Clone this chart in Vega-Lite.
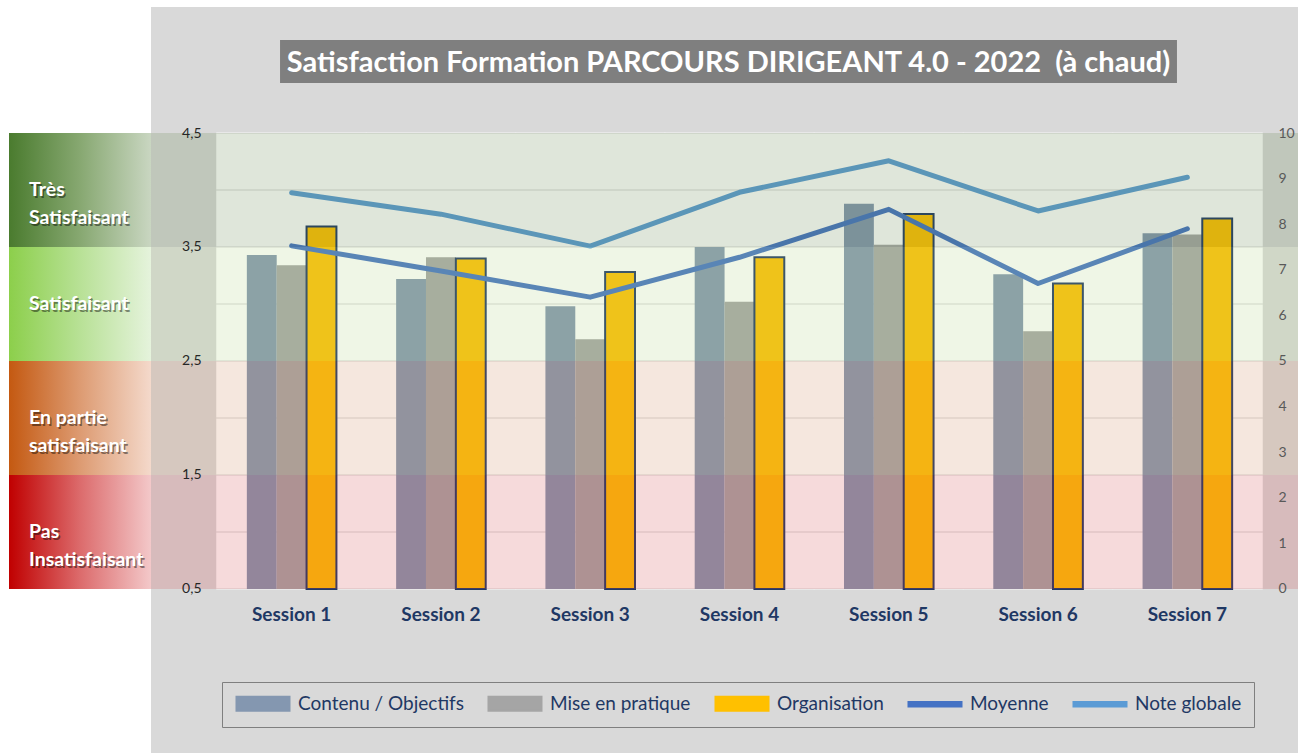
{
  "$schema": "https://vega.github.io/schema/vega-lite/v6.json",
  "background": "white",
  "padding": {"left": 9, "top": 7, "right": 0, "bottom": 0},
  "spacing": 0,
  "bounds": "flush",
  "config": {"view": {"stroke": null}, "font": "Lato"},
  "resolve": {"scale": {"x": "independent", "y": "independent", "color": "independent", "fill": "independent", "shape": "independent", "stroke": "independent"}},
  "datasets": {
    "sessions": [
      {"session": "Session 1", "contenu": 3.43, "mise": 3.34, "organisation": 3.68, "moyenne": 3.51, "note": 8.69},
      {"session": "Session 2", "contenu": 3.22, "mise": 3.41, "organisation": 3.40, "moyenne": 3.29, "note": 8.22},
      {"session": "Session 3", "contenu": 2.98, "mise": 2.69, "organisation": 3.28, "moyenne": 3.06, "note": 7.52},
      {"session": "Session 4", "contenu": 3.50, "mise": 3.02, "organisation": 3.41, "moyenne": 3.41, "note": 8.70},
      {"session": "Session 5", "contenu": 3.88, "mise": 3.52, "organisation": 3.79, "moyenne": 3.83, "note": 9.39},
      {"session": "Session 6", "contenu": 3.26, "mise": 2.76, "organisation": 3.18, "moyenne": 3.18, "note": 8.29},
      {"session": "Session 7", "contenu": 3.62, "mise": 3.61, "organisation": 3.75, "moyenne": 3.66, "note": 9.03}
    ],
    "bands": [
      {"band": "tres", "label": "Très\nSatisfaisant", "score": 4, "lo": 3.5, "hi": 4.5},
      {"band": "sat", "label": "Satisfaisant", "score": 3, "lo": 2.5, "hi": 3.5},
      {"band": "partie", "label": "En partie\nsatisfaisant", "score": 2, "lo": 1.5, "hi": 2.5},
      {"band": "pas", "label": "Pas\nInsatisfaisant", "score": 1, "lo": 0.5, "hi": 1.5}
    ],
    "grid": [{"v": 0.5}, {"v": 1}, {"v": 1.5}, {"v": 2}, {"v": 2.5}, {"v": 3}, {"v": 3.5}, {"v": 4}, {"v": 4.5}]
  },
  "hconcat": [
    {
      "width": 142,
      "height": 746,
      "data": {"name": "bands"},
      "layer": [
        {
          "transform": [{"filter": "datum.band === 'tres'"}],
          "mark": {"type": "rect", "color": {"gradient": "linear", "x1": 0, "x2": 1, "y1": 0, "y2": 0, "stops": [{"offset": 0, "color": "#4a7b2e"}, {"offset": 0.5, "color": "#87a871"}, {"offset": 1, "color": "#c9d6c1"}]}},
          "encoding": {"y": {"field": "lo", "type": "quantitative", "scale": {"domain": [-0.9386, 5.6053], "nice": false, "zero": false}, "axis": null}, "y2": {"field": "hi"}}
        },
        {
          "transform": [{"filter": "datum.band === 'sat'"}],
          "mark": {"type": "rect", "color": {"gradient": "linear", "x1": 0, "x2": 1, "y1": 0, "y2": 0, "stops": [{"offset": 0, "color": "#8ccf4b"}, {"offset": 0.5, "color": "#b8e196"}, {"offset": 1, "color": "#e5f3dc"}]}},
          "encoding": {"y": {"field": "lo", "type": "quantitative", "scale": {"domain": [-0.9386, 5.6053], "nice": false, "zero": false}, "axis": null}, "y2": {"field": "hi"}}
        },
        {
          "transform": [{"filter": "datum.band === 'partie'"}],
          "mark": {"type": "rect", "color": {"gradient": "linear", "x1": 0, "x2": 1, "y1": 0, "y2": 0, "stops": [{"offset": 0, "color": "#c45911"}, {"offset": 0.5, "color": "#dd9b72"}, {"offset": 1, "color": "#f4d9cb"}]}},
          "encoding": {"y": {"field": "lo", "type": "quantitative", "scale": {"domain": [-0.9386, 5.6053], "nice": false, "zero": false}, "axis": null}, "y2": {"field": "hi"}}
        },
        {
          "transform": [{"filter": "datum.band === 'pas'"}],
          "mark": {"type": "rect", "color": {"gradient": "linear", "x1": 0, "x2": 1, "y1": 0, "y2": 0, "stops": [{"offset": 0, "color": "#c00000"}, {"offset": 0.5, "color": "#dc6b6c"}, {"offset": 1, "color": "#f3c8c9"}]}},
          "encoding": {"y": {"field": "lo", "type": "quantitative", "scale": {"domain": [-0.9386, 5.6053], "nice": false, "zero": false}, "axis": null}, "y2": {"field": "hi"}}
        },
        {
          "mark": {"type": "text", "color": "rgba(0,0,0,0.45)", "font": "Lato", "fontWeight": "bold", "fontSize": 19.5, "align": "left", "baseline": "middle", "lineBreak": "\n", "lineHeight": 28, "dx": -49.5, "dy": 1.5},
          "encoding": {"y": {"field": "score", "type": "quantitative", "scale": {"domain": [-0.9386, 5.6053], "nice": false, "zero": false}, "axis": null}, "text": {"field": "label"}}
        },
        {
          "mark": {"type": "text", "color": "white", "font": "Lato", "fontWeight": "bold", "fontSize": 19.5, "align": "left", "baseline": "middle", "lineBreak": "\n", "lineHeight": 28, "dx": -51},
          "encoding": {"y": {"field": "score", "type": "quantitative", "scale": {"domain": [-0.9386, 5.6053], "nice": false, "zero": false}, "axis": null}, "text": {"field": "label"}}
        }
      ]
    },
    {
      "spacing": 0,
      "bounds": "flush",
      "resolve": {"scale": {"x": "independent", "y": "independent", "color": "independent", "fill": "independent", "shape": "independent", "stroke": "independent"}},
      "vconcat": [
        {
          "width": 1147,
          "height": 126,
          "view": {"fill": "#d9d9d9", "stroke": null},
          "data": {"values": [{"titre": "Satisfaction Formation PARCOURS DIRIGEANT 4.0 - 2022\u00a0\u00a0(à chaud)"}]},
          "encoding": {
            "x": {"field": "titre", "type": "nominal", "scale": {"paddingInner": 0, "paddingOuter": 0.1394, "align": 0.516}, "axis": null},
            "y": {"field": "titre", "type": "nominal", "scale": {"paddingInner": 0, "paddingOuter": 0.965, "align": 0.3976}, "axis": null}
          },
          "layer": [
            {"mark": {"type": "rect", "color": "#7f7f7f"}},
            {"mark": {"type": "text", "color": "white", "font": "Lato", "fontWeight": "bold", "fontSize": 29, "baseline": "middle", "align": "center", "dy": 1}, "encoding": {"text": {"field": "titre"}}}
          ]
        },
        {
          "width": 1147,
          "height": 620,
          "view": {"fill": "#d9d9d9", "stroke": null},
          "resolve": {"scale": {"y": "independent"}},
          "layer": [
            {
              "data": {"name": "sessions"},
              "transform": [{"fold": ["contenu", "mise", "organisation", "moyenne", "note"], "as": ["serie", "valeur"]}],
              "mark": {"type": "point", "filled": true, "opacity": 0},
              "encoding": {
                "color": {"field": "serie", "type": "nominal",
                  "scale": {"domain": ["contenu", "mise", "organisation", "moyenne", "note"], "range": ["#8497b0", "#a5a5a5", "#ffc000", "#4472c4", "#5b9bd5"]},
                  "legend": {
                    "orient": "none", "legendX": 71, "legendY": 549, "direction": "horizontal", "columns": 5, "title": null,
                    "labelExpr": "datum.label === 'contenu' ? 'Contenu / Objectifs' : datum.label === 'mise' ? 'Mise en pratique' : datum.label === 'organisation' ? 'Organisation' : datum.label === 'moyenne' ? 'Moyenne' : 'Note globale'",
                    "labelFont": "Lato", "labelFontSize": 19, "labelColor": "#1f3864", "labelOffset": 25.5, "labelLimit": 400, "columnPadding": 20,
                    "symbolSize": 196, "symbolOffset": 19.5, "symbolOpacity": 1, "symbolStrokeWidth": 2, "padding": 12, "strokeColor": "#7f7f7f"
                  }
                },
                "shape": {"field": "serie", "type": "nominal",
                  "scale": {"domain": ["contenu", "mise", "organisation", "moyenne", "note"], "range": ["M-3.786,-1H3.786V1H-3.786Z", "M-3.786,-1H3.786V1H-3.786Z", "M-3.786,-1H3.786V1H-3.786Z", "M-3.786,-0.32H3.786V0.32H-3.786Z", "M-3.786,-0.32H3.786V0.32H-3.786Z"]},
                  "legend": {
                    "orient": "none", "legendX": 71, "legendY": 549, "direction": "horizontal", "columns": 5, "title": null,
                    "labelExpr": "datum.label === 'contenu' ? 'Contenu / Objectifs' : datum.label === 'mise' ? 'Mise en pratique' : datum.label === 'organisation' ? 'Organisation' : datum.label === 'moyenne' ? 'Moyenne' : 'Note globale'",
                    "labelFont": "Lato", "labelFontSize": 19, "labelColor": "#1f3864", "labelOffset": 25.5, "labelLimit": 400, "columnPadding": 20,
                    "symbolSize": 196, "symbolOffset": 19.5, "symbolOpacity": 1, "symbolStrokeWidth": 2, "padding": 12, "strokeColor": "#7f7f7f"
                  }
                },
                "stroke": {"field": "serie", "type": "nominal",
                  "scale": {"domain": ["contenu", "mise", "organisation", "moyenne", "note"], "range": ["transparent", "transparent", "#203864", "transparent", "transparent"]},
                  "legend": {
                    "orient": "none", "legendX": 71, "legendY": 549, "direction": "horizontal", "columns": 5, "title": null,
                    "labelExpr": "datum.label === 'contenu' ? 'Contenu / Objectifs' : datum.label === 'mise' ? 'Mise en pratique' : datum.label === 'organisation' ? 'Organisation' : datum.label === 'moyenne' ? 'Moyenne' : 'Note globale'",
                    "labelFont": "Lato", "labelFontSize": 19, "labelColor": "#1f3864", "labelOffset": 25.5, "labelLimit": 400, "columnPadding": 20,
                    "symbolSize": 196, "symbolOffset": 19.5, "symbolOpacity": 1, "symbolStrokeWidth": 2, "padding": 12, "strokeColor": "#7f7f7f"
                  }
                }
              }
            },
            {
              "data": {"name": "sessions"},
              "mark": {"type": "bar", "color": "white", "stroke": "white", "strokeWidth": 1.5},
              "encoding": {
                "x": {"field": "session", "type": "nominal", "scale": {"paddingInner": 0, "paddingOuter": 0.3416, "align": 0.647},
                  "axis": {"orient": "bottom", "offset": -164, "title": null, "domain": false, "ticks": false, "labelAngle": 0, "labelPadding": 16, "labelFont": "Lato", "labelFontSize": 19, "labelFontWeight": "bold", "labelColor": "#1f3864", "zindex": 1}},
                "y": {"datum": 4.5, "type": "quantitative", "scale": {"domain": [-0.9386, 4.5], "nice": false, "zero": false}, "axis": null},
                "y2": {"datum": 0.5}
              }
            },
            {
              "data": {"name": "grid"},
              "mark": {"type": "rule", "color": "#d9d9d9", "strokeWidth": 1.2},
              "encoding": {
                "y": {"field": "v", "type": "quantitative", "scale": {"domain": [-0.9386, 4.5], "nice": false, "zero": false}, "axis": null}
              }
            },
            {
              "data": {"name": "sessions"},
              "transform": [{"fold": ["contenu", "mise", "organisation"], "as": ["serie", "valeur"]}],
              "mark": {"type": "bar"},
              "encoding": {
                "x": {"field": "session", "type": "nominal"},
                "xOffset": {"field": "serie", "type": "nominal", "scale": {"paddingInner": 0, "paddingOuter": 1.13}},
                "y": {"field": "valeur", "type": "quantitative", "scale": {"domain": [-0.9386, 4.5], "nice": false, "zero": false},
                  "axis": {"orient": "left", "offset": -66, "title": null, "domain": false, "ticks": false, "grid": false, "values": [0.5, 1.5, 2.5, 3.5, 4.5], "labelExpr": "replace(format(datum.value, '.1f'), '.', ',')", "labelPadding": 16, "labelFont": "Lato", "labelFontSize": 14, "labelColor": "#262626", "labelFlush": false, "labelOverlap": false, "zindex": 1}},
                "y2": {"datum": 0.5},
                "color": {"field": "serie", "type": "nominal",
                  "scale": {"domain": ["contenu", "mise", "organisation", "moyenne", "note"], "range": ["#8497b0", "#a5a5a5", "#ffc000", "#4472c4", "#5b9bd5"]},
                  "legend": null
                },
                "stroke": {"condition": {"test": "datum.serie === 'organisation'", "value": "#203864"}, "value": null},
                "strokeWidth": {"condition": {"test": "datum.serie === 'organisation'", "value": 2}, "value": 0}
              }
            },
            {
              "data": {"name": "sessions"},
              "mark": {"type": "line", "strokeWidth": 5, "strokeCap": "round", "strokeJoin": "round"},
              "encoding": {
                "x": {"field": "session", "type": "nominal"},
                "y": {"field": "moyenne", "type": "quantitative", "scale": {"domain": [-0.9386, 4.5], "nice": false, "zero": false}, "axis": null},
                "color": {"datum": "moyenne", "type": "nominal", "legend": null}
              }
            },
            {
              "data": {"name": "sessions"},
              "mark": {"type": "line", "strokeWidth": 5, "strokeCap": "round", "strokeJoin": "round"},
              "encoding": {
                "x": {"field": "session", "type": "nominal"},
                "y": {"field": "note", "type": "quantitative", "scale": {"domain": [-3.5965, 10], "nice": false, "zero": false},
                  "axis": {"orient": "right", "offset": -36, "title": null, "domain": false, "ticks": false, "grid": false, "values": [0, 1, 2, 3, 4, 5, 6, 7, 8, 9, 10], "labelPadding": 16, "labelFont": "Lato", "labelFontSize": 14, "labelColor": "#595959", "labelFlush": false, "labelOverlap": false, "zindex": 1}},
                "color": {"datum": "note", "type": "nominal", "legend": null}
              }
            },
            {
              "data": {"name": "bands"},
              "mark": {"type": "rect"},
              "encoding": {
                "y": {"field": "lo", "type": "quantitative", "scale": {"domain": [-0.9386, 4.5], "nice": false, "zero": false}, "axis": null},
                "y2": {"field": "hi"},
                "fill": {"field": "band", "type": "nominal", "scale": {"domain": ["tres", "sat", "partie", "pas"], "range": ["rgba(95,130,70,0.2)", "rgba(175,210,130,0.2)", "rgba(205,135,90,0.2)", "rgba(210,70,75,0.2)"]}, "legend": null}
              }
            }
          ]
        }
      ]
    }
  ]
}
